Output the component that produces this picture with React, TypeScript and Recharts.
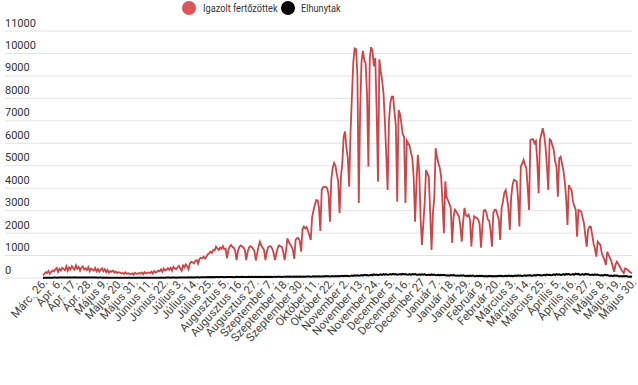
import { CartesianGrid, Legend, Line, LineChart, XAxis, YAxis } from "recharts"

const tickLabels = [
  "Márc. 26.", "Ápr. 6.", "Ápr. 17.", "Ápr. 28.", "Május 9.", "Május 20.", "Május 31.", "Június 11.",
  "Június 22.", "Július 3.", "Július 14.", "Július 25.", "Augusztus 5.", "Augusztus 16.", "Augusztus 27.",
  "Szeptember 7.", "Szeptember 18.", "Szeptember 30.", "Október 11.", "Október 22.", "November 2.",
  "November 13.", "November 24.", "December 5.", "December 16.", "December 27", "Január 7.", "Január 18.",
  "Január 29.", "Február 9.", "Február 20.", "Március 3.", "Március 14.", "Március 25.", "Április 5.",
  "Április 16.", "Április 27.", "Május 8.", "Május 19.", "Május 30.",
]

const yTicks = [0, 1000, 2000, 3000, 4000, 5000, 6000, 7000, 8000, 9000, 10000, 11000]

// napi igazolt fertőzöttek
const igazolt = [
  120, 180, 260, 220, 310, 190, 280,
  340, 290, 390, 450, 270, 410, 330,
  460, 400, 350, 520, 320, 470, 380,
  530, 440, 370, 560, 410, 490, 330,
  460, 510, 380, 430, 350, 480, 300,
  420, 380, 330, 450, 300, 400, 280,
  370, 430, 300, 390, 260, 360, 230,
  310, 270, 330, 240, 290, 220, 260,
  240, 200, 230, 180, 250, 190, 210,
  200, 170, 210, 150, 230, 180, 200,
  220, 190, 240, 170, 260, 200, 230,
  250, 220, 280, 200, 310, 240, 280,
  330, 300, 390, 280, 420, 330, 370,
  440, 360, 460, 320, 500, 430, 390,
  480, 540, 420, 320, 560, 470, 610,
  520, 390, 650, 720, 700, 650, 760,
  800, 640, 850, 900, 880, 950, 870,
  950, 1050, 1100, 1180, 1120, 1250, 1220,
  1400, 1320, 1250, 1350, 1300, 1420, 1280,
  1300, 880, 1250, 1400, 1470, 1380, 1350,
  1200, 800, 1200, 1380, 1450, 1400, 1350,
  1250, 800, 1150, 1350, 1420, 1380, 1300,
  1200, 780, 1100, 1400, 1620, 1450, 1350,
  1250, 800, 1150, 1380, 1420, 1400, 1300,
  1100, 800, 1100, 1350, 1450, 1400, 1380,
  1150, 800, 1200, 1770, 1600, 1500, 1400,
  1250, 850, 1700, 1770, 1770, 1650, 1170,
  2160, 2290, 2200, 2270, 2100, 1900, 1690,
  2700, 3000, 3250, 3470, 3450, 3150, 2100,
  3920, 4040, 4070, 4050, 4000, 3700, 2510,
  4400, 4900, 5120, 5000, 4630, 4300, 2890,
  4500, 5100, 6300, 6520, 5800, 5350, 4070,
  6500, 8080, 9600, 10230, 10200, 9000, 3340,
  7500, 9640, 10120, 9700, 9560, 8200, 4960,
  9800, 10280, 10100, 9430, 9800, 7500, 4290,
  9740, 9200, 8800, 8230, 7000, 5500, 3920,
  7000, 7800, 8080, 8080, 7400, 6800, 3400,
  7480, 7300, 6900, 6400, 6290, 3340, 6110,
  6000, 5900, 5600, 5340, 4450, 2510, 4200,
  5480, 4800, 2700, 1470, 2400, 3340, 4810,
  4650, 4500, 2900, 1250, 2900, 3560, 5780,
  5400, 5110, 4900, 4500, 3340, 1990, 4300,
  3600, 3450, 3300, 3120, 1560, 2700, 3040,
  2960, 2850, 2740, 2290, 1620, 2500, 3120,
  2800, 2740, 2820, 2600, 1400, 2300, 2750,
  2700, 2670, 2600, 2400, 1350, 2300, 3000,
  3030, 2900, 2600, 2550, 2100, 1390, 2900,
  3040, 3030, 2800, 2600, 1690, 3100, 3400,
  3800, 3920, 3550, 3100, 2140, 3600, 4140,
  4370, 4340, 4300, 3550, 2290, 4960, 5100,
  5260, 5050, 4900, 4070, 3030, 6150, 6170,
  6180, 6000, 6100, 5200, 3770, 6150, 6400,
  6670, 6370, 5850, 5000, 3920, 6180, 6120,
  5900, 5700, 5200, 4960, 3620, 5330, 5400,
  5100, 4810, 4300, 3600, 2360, 4140, 4000,
  3920, 3400, 3200, 3040, 1840, 3030, 3000,
  2960, 2700, 2440, 1900, 1390, 2140, 2290,
  2290, 1920, 1540, 1300, 950, 1620, 1540,
  1470, 1100, 950, 800, 580, 1170, 1020,
  900, 730, 510, 280, 600, 730, 620,
  510, 400, 300, 220, 430, 400, 360,
  290, 250, 210,
]

// napi elhunytak
const elhunytak = [
  4, 6, 8, 10, 12, 9, 14,
  16, 18, 20, 15, 22, 19, 17,
  21, 24, 20, 26, 22, 25, 18,
  25, 22, 28, 20, 26, 24, 21,
  23, 27, 19, 25, 22, 20, 24,
  20, 18, 23, 17, 21, 16, 19,
  18, 15, 20, 14, 17, 13, 16,
  14, 12, 16, 11, 15, 10, 13,
  12, 9, 14, 8, 11, 10, 12,
  9, 7, 11, 6, 10, 8, 9,
  8, 10, 6, 9, 12, 7, 10,
  11, 9, 13, 8, 12, 10, 14,
  15, 12, 17, 11, 16, 13, 18,
  17, 20, 15, 22, 18, 21, 16,
  20, 23, 18, 25, 21, 24, 19,
  25, 28, 22, 30, 26, 32, 24,
  30, 34, 28, 36, 32, 38, 29,
  35, 39, 33, 42, 37, 41, 34,
  40, 44, 38, 46, 41, 45, 37,
  43, 47, 40, 49, 44, 48, 39,
  45, 50, 42, 48, 46, 52, 41,
  44, 49, 43, 51, 47, 50, 42,
  46, 52, 44, 55, 48, 53, 45,
  48, 54, 46, 56, 50, 55, 47,
  50, 57, 48, 59, 52, 58, 49,
  53, 60, 51, 62, 55, 61, 52,
  56, 64, 54, 67, 59, 65, 55,
  60, 68, 58, 71, 63, 70, 59,
  65, 73, 62, 77, 68, 75, 64,
  70, 79, 67, 84, 74, 82, 69,
  76, 86, 73, 92, 81, 90, 75,
  84, 96, 80, 103, 90, 100, 83,
  95, 110, 92, 120, 105, 118, 98,
  110, 128, 105, 140, 122, 135, 112,
  125, 145, 120, 160, 138, 155, 128,
  140, 162, 135, 175, 150, 170, 142,
  150, 172, 145, 182, 160, 178, 148,
  152, 175, 148, 185, 162, 180, 150,
  148, 170, 142, 178, 155, 172, 145,
  140, 160, 135, 168, 148, 162, 138,
  130, 150, 125, 158, 138, 150, 128,
  120, 138, 115, 145, 126, 140, 118,
  110, 125, 105, 132, 115, 128, 108,
  100, 115, 95, 120, 105, 116, 98,
  90, 104, 86, 110, 95, 106, 88,
  82, 95, 78, 100, 87, 96, 80,
  78, 90, 74, 95, 83, 92, 76,
  80, 93, 76, 98, 86, 95, 79,
  85, 99, 82, 105, 92, 101, 84,
  92, 108, 88, 115, 100, 110, 91,
  100, 118, 96, 125, 109, 120, 99,
  110, 130, 106, 138, 120, 132, 109,
  122, 145, 118, 155, 134, 148, 121,
  135, 160, 130, 170, 148, 165, 134,
  145, 172, 140, 185, 160, 178, 144,
  150, 178, 145, 190, 165, 182, 148,
  145, 170, 138, 180, 156, 172, 140,
  130, 152, 124, 160, 140, 154, 126,
  112, 130, 105, 138, 120, 132, 108,
  92, 108, 86, 115, 100, 110, 88,
  72, 85, 68, 90, 78, 86, 70,
  58, 66, 52,
]

const RED = "#cc4549"
const BLACK = "#000000"
const GRID = "#e2e2e2"
const FONT = "Roboto, sans-serif"

const data = igazolt.map((v, i) => ({ nap: i, igazolt: v, elhunyt: elhunytak[i] }))
const xTicks = tickLabels.map((_, i) => i * 11)

function DateTick({ x, y, payload }: any) {
  const tx = x + 5
  const ty = y - 3
  return (
    <text x={tx} y={ty} transform={`rotate(-48, ${tx}, ${ty})`} textAnchor="end" fontSize={11.5} fill="#444" fontFamily={FONT}>
      {tickLabels[payload.value / 11]}
    </text>
  )
}

// the grid runs under the value labels, so each tick draws its own stretch of line
function ValueTick({ x, y, payload }: any) {
  return (
    <g>
      <line x1={5} x2={x + 8} y1={y} y2={y} stroke={GRID} />
      <text x={5} y={y - 4.5} textAnchor="start" fontSize={11} fill="#333" fontFamily={FONT}>
        {payload.value}
      </text>
    </g>
  )
}

function TopLegend() {
  const dot = (color: string, left: number) => (
    <span style={{ position: "absolute", left, top: 1, width: 14, height: 14, borderRadius: 7, background: color }} />
  )
  const label = (text: string, left: number) => (
    <span
      style={{
        position: "absolute",
        left,
        top: 1,
        whiteSpace: "nowrap",
        fontFamily: FONT,
        fontSize: 11.5,
        color: "#333",
        transform: "scaleX(0.8)",
        transformOrigin: "left center",
      }}
    >
      {text}
    </span>
  )
  return (
    <div style={{ position: "relative", width: 638, height: 16 }}>
      {dot("#d9555a", 182)}
      {label("Igazolt fertőzöttek", 203)}
      {dot(BLACK, 281)}
      {label("Elhunytak", 301)}
    </div>
  )
}

export default function App() {
  return (
    <div style={{ width: 638, height: 385, background: "#fff" }}>
      <style>{"body{margin:0}"}</style>
      <LineChart width={638} height={385} data={data} margin={{ top: 31, right: 6, left: 5, bottom: 0 }}>
        <CartesianGrid vertical={false} stroke={GRID} />
        <XAxis
          dataKey="nap"
          type="number"
          domain={[0, 429]}
          ticks={xTicks}
          interval={0}
          tick={<DateTick />}
          tickLine={false}
          axisLine={false}
          height={107}
          padding={{ left: 1, right: 0 }}
        />
        <YAxis
          width={37}
          domain={[0, 11000]}
          ticks={yTicks}
          interval={0}
          tick={<ValueTick />}
          tickLine={false}
          axisLine={false}
        />
        <Legend verticalAlign="middle" align="center" content={<TopLegend />} wrapperStyle={{ top: 0, left: 0, width: 638 }} />
        <Line type="linear" dataKey="igazolt" stroke={RED} strokeWidth={1.8} dot={false} isAnimationActive={false} />
        <Line type="linear" dataKey="elhunyt" stroke={BLACK} strokeWidth={2} dot={false} isAnimationActive={false} />
      </LineChart>
    </div>
  )
}
